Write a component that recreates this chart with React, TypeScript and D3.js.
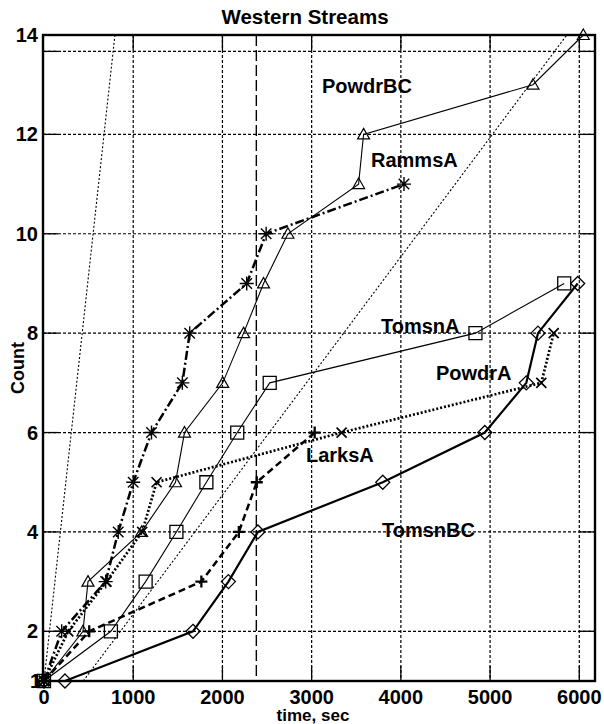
import React from "react";
import * as d3 from "d3";

const W = 604;
const H = 724;

// tick values
const xTicks = [0, 1000, 2000, 3000, 4000, 5000, 6000];
const yTicks = [1, 2, 4, 6, 8, 10, 12, 14];
const yGrid = [2, 4, 6, 8, 10, 12, 13.67];

// series: time (sec) at which each count was reached
const powdrBCTime = [0, 437, 493, 1094, 1474, 1575, 2003, 2237, 2461, 2734, 3526, 3582, 5481, 6045];
const powdrBCCount = [1, 2, 3, 4, 5, 6, 7, 8, 9, 10, 11, 12, 13, 14];

const rammsATime = [0, 198, 691, 832, 1000, 1205, 1551, 1633, 2272, 2490, 4035];
const rammsACount = [1, 2, 3, 4, 5, 6, 7, 8, 9, 10, 11];

const tomsnATime = [0, 750, 1139, 1484, 1820, 2166, 2530, 4836, 5831];
const tomsnACount = [1, 2, 3, 4, 5, 6, 7, 8, 9];

const powdrATime = [0, 272, 700, 1100, 1262, 3336, 5574, 5713];
const powdrACount = [1, 2, 3, 4, 5, 6, 7, 8];

const larksATime = [0, 507, 1764, 2184, 2385, 3034];
const larksACount = [1, 2, 3, 4, 5, 6];

const tomsnBCTime = [0, 235, 1670, 2067, 2398, 3797, 4941, 5406, 5537, 5982];
const tomsnBCCount = [1, 1, 2, 3, 4, 5, 6, 7, 8, 9];

// reference lines
const refATime = [0, 795];
const refACount = [1, 14];
const refBTime = [440, 5860];
const refBCount = [1, 14];
const vLineTime = 2380;

const labels = [
  { text: "PowdrBC", x: 322, y: 93 },
  { text: "RammsA", x: 371, y: 167 },
  { text: "TomsnA", x: 381, y: 333 },
  { text: "PowdrA", x: 436, y: 380 },
  { text: "LarksA", x: 306, y: 462 },
  { text: "TomsnBC", x: 382, y: 537 },
];

type Pt = [number, number];

const zip = (t: number[], c: number[]): Pt[] => t.map((v, i) => [v, c[i]]);

function markerPath(kind: string, x: number, y: number): string {
  switch (kind) {
    case "tri": {
      const s = 6;
      return `M${x},${y - s}L${x + s},${y + s * 0.75}L${x - s},${y + s * 0.75}Z`;
    }
    case "sq": {
      const s = 6.5;
      return `M${x - s},${y - s}H${x + s}V${y + s}H${x - s}Z`;
    }
    case "dia": {
      const s = 7;
      return `M${x},${y - s}L${x + s},${y}L${x},${y + s}L${x - s},${y}Z`;
    }
    case "ast": {
      const s = 7;
      const d = s * 0.75;
      return `M${x - s},${y}H${x + s}M${x},${y - s}V${y + s}M${x - d},${y - d}L${x + d},${y + d}M${x - d},${y + d}L${x + d},${y - d}`;
    }
    case "x": {
      const s = 5;
      return `M${x - s},${y - s}L${x + s},${y + s}M${x - s},${y + s}L${x + s},${y - s}`;
    }
    case "plus": {
      const s = 6;
      return `M${x - s},${y}H${x + s}M${x},${y - s}V${y + s}`;
    }
  }
  return "";
}

export default function App() {
  const left = 43;
  const right = 595;
  const top = 35;
  const bottom = 681;
  const x = d3.scaleLinear().domain([0, 6176]).range([left + 1, right]);
  const y = d3.scaleLinear().domain([1, 14]).range([bottom, top]);
  const line = d3
    .line<Pt>()
    .x((d) => x(d[0]))
    .y((d) => y(d[1]));

  const series = [
    { pts: zip(powdrBCTime, powdrBCCount), m: "tri", sw: 1.1, dash: "", mw: 1.2 },
    { pts: zip(rammsATime, rammsACount), m: "ast", sw: 2.5, dash: "9,3,2,3", mw: 1.4 },
    { pts: zip(tomsnATime, tomsnACount), m: "sq", sw: 1.1, dash: "", mw: 1.3 },
    { pts: zip(powdrATime, powdrACount), m: "x", sw: 2.7, dash: "2,2", mw: 1.7 },
    { pts: zip(larksATime, larksACount), m: "plus", sw: 2.5, dash: "7,4", mw: 2.3 },
    { pts: zip(tomsnBCTime, tomsnBCCount), m: "dia", sw: 2.2, dash: "", mw: 1.3 },
  ];

  const font = "'Liberation Sans', Arial, Helvetica, sans-serif";

  return (
    <svg width={W} height={H} style={{ position: "absolute", left: 0, top: 0, background: "#fff" }}>
      <rect x={0} y={0} width={W} height={H} fill="#fff" />
      {/* grid */}
      {xTicks.slice(1).map((t) => (
        <g key={"gx" + t}>
          <line x1={x(t)} x2={x(t)} y1={top} y2={bottom} stroke="#000" strokeWidth={1.2} strokeDasharray="3,2" />
          <line x1={x(t)} x2={x(t)} y1={bottom} y2={bottom - 15} stroke="#000" strokeWidth={1.3} />
          <line x1={x(t)} x2={x(t)} y1={top} y2={top + 15} stroke="#000" strokeWidth={1.3} />
        </g>
      ))}
      {yGrid.map((v) => (
        <g key={"gy" + v}>
          <line x1={left} x2={right} y1={y(v)} y2={y(v)} stroke="#000" strokeWidth={1.2} strokeDasharray="3,2" />
          <line x1={left} x2={left + 15} y1={y(v)} y2={y(v)} stroke="#000" strokeWidth={1.3} />
          <line x1={right - 15} x2={right} y1={y(v)} y2={y(v)} stroke="#000" strokeWidth={1.3} />
        </g>
      ))}
      {/* reference lines */}
      <path d={line(zip(refATime, refACount)) || ""} fill="none" stroke="#000" strokeWidth={1.1} strokeDasharray="2,2" />
      <path d={line(zip(refBTime, refBCount)) || ""} fill="none" stroke="#000" strokeWidth={1.1} strokeDasharray="2,2" />
      <line x1={x(vLineTime)} x2={x(vLineTime)} y1={top} y2={bottom} stroke="#000" strokeWidth={1.4} strokeDasharray="11,4" />
      {/* series */}
      {series.map((s, i) => (
        <g key={"s" + i}>
          <path d={line(s.pts) || ""} fill="none" stroke="#000" strokeWidth={s.sw} strokeDasharray={s.dash || undefined} />
          {s.pts.map((p, j) => (
            <path key={j} d={markerPath(s.m, x(p[0]), y(p[1]))} fill="none" stroke="#000" strokeWidth={s.mw} />
          ))}
        </g>
      ))}
      {/* frame */}
      <rect x={left} y={top} width={right - left} height={bottom - top} fill="none" stroke="#000" strokeWidth={2.4} />
      {/* tick labels */}
      {xTicks.map((t) => (
        <text key={"xl" + t} x={x(t)} y={704} textAnchor="middle" fontFamily={font} fontWeight="bold" fontSize={20}>
          {t}
        </text>
      ))}
      {yTicks.map((v) => (
        <text key={"yl" + v} x={v === 1 ? 41 : 38} y={y(v) + 7} textAnchor="end" fontFamily={font} fontWeight="bold" fontSize={20}>
          {v}
        </text>
      ))}
      {/* labels */}
      {labels.map((l) => (
        <text key={l.text} x={l.x} y={l.y} fontFamily={font} fontWeight="bold" fontSize={20}>
          {l.text}
        </text>
      ))}
      <text x={305} y={24} textAnchor="middle" fontFamily={font} fontWeight="bold" fontSize={20.5}>
        Western Streams
      </text>
      <text x={313} y={721} textAnchor="middle" fontFamily={font} fontWeight="bold" fontSize={17}>
        time, sec
      </text>
      <text transform="translate(24,368) rotate(-90)" textAnchor="middle" fontFamily={font} fontWeight="bold" fontSize={18}>
        Count
      </text>
    </svg>
  );
}
